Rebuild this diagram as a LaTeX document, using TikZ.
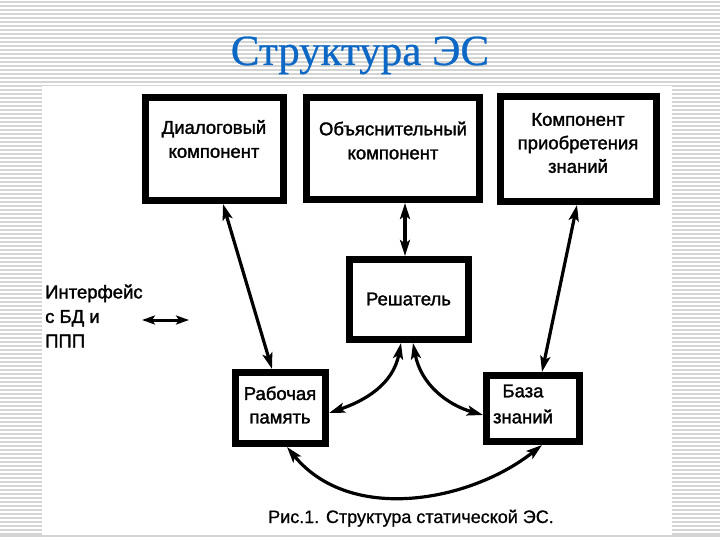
\documentclass[tikz,border=0pt]{standalone}
\usepackage{fontspec}
\setmainfont{Liberation Sans}
\newfontfamily\boxfont{Liberation Sans}[FakeBold=1.6]
\newfontfamily\capfont{Liberation Sans}[FakeBold=0.8]
\newfontfamily\titlefont{Liberation Serif}[FakeBold=0.6]
\usetikzlibrary{arrows.meta}
\definecolor{titleblue}{RGB}{12,104,196}
\definecolor{stripegray}{RGB}{212,212,212}
\begin{document}
\begin{tikzpicture}[x=1pt,y=-1pt,
  box/.style={draw=black, line width=7pt, fill=white, outer sep=3.5pt, inner sep=0pt},
  txt/.style={font=\boxfont\fontsize{18.5}{24}\selectfont, align=center, inner sep=0pt},
  link/.style={line width=3.2pt, {Stealth[length=16pt,width=10pt,inset=3.5pt]}-{Stealth[length=16pt,width=10pt,inset=3.5pt]}},
  smalllink/.style={line width=3pt, {Stealth[length=13pt,width=9pt,inset=3pt]}-{Stealth[length=13pt,width=9pt,inset=3pt]}},
  stripe/.style={stripegray, line width=1.6pt}]
\useasboundingbox (0,0) rectangle (720,540);
\fill[white] (0,0) rectangle (720,540);
\foreach \yy in {2,6,...,534} \draw[stripe] (0,\yy) -- (720,\yy);
\fill[white] (42,86) rectangle (672,536);
\draw[stripe] (0,536) -- (720,536);

\node[font=\titlefont\fontsize{43}{50}\selectfont, text=titleblue, anchor=base, inner sep=0pt] (title) at (360,65) {Структура ЭС};

\node[box, minimum width=138, minimum height=103] (dlg) at (214.5,149) {};
\node[box, minimum width=173, minimum height=102] (obj) at (393,148.5) {};
\node[box, minimum width=156, minimum height=105] (kpz) at (578.5,149) {};
\node[box, minimum width=119, minimum height=80] (res) at (409,299.5) {};
\node[box, minimum width=90, minimum height=71] (rab) at (280.5,408) {};
\node[box, minimum width=93, minimum height=66] (baza) at (533,408.5) {};

\node[txt] (dlgT) at (214,139) {Диалоговый\\компонент};
\node[txt] (objT) at (393,140.5) {Объяснительный\\компонент};
\node[txt, font=\boxfont\fontsize{18.5}{23.5}\selectfont] (kpzT) at (578,143) {Компонент\\приобретения\\знаний};
\node[txt] (resT) at (408.5,299) {Решатель};
\node[txt, font=\boxfont\fontsize{18.5}{23.5}\selectfont] (rabT) at (280,405) {Рабочая\\память};
\node[txt, font=\boxfont\fontsize{18.5}{26}\selectfont] (bazaT) at (523,404) {База\\знаний};

\node[txt, align=left, anchor=west, font=\boxfont\fontsize{18.5}{24.5}\selectfont] (intf) at (45,316) {Интерфейс\\с БД и\\ППП};
\coordinate (ia) at (142,320);
\coordinate (ib) at (189,320);
\draw[smalllink] (ia) -- (ib);

\draw[link] ([xshift=8.5pt]dlg.south) -- ([xshift=-8.5pt]rab.north);
\draw[link] ([xshift=12pt]obj.south) -- ([xshift=-4pt]res.north);
\draw[link] ([xshift=-1.5pt]kpz.south) -- ([xshift=9pt]baza.north);
\draw[link] ([xshift=-8pt]res.south) .. controls +(-8,42) and +(35,-12) .. ([yshift=-5pt]rab.east);
\draw[link] ([xshift=4pt]res.south) .. controls +(8,42) and +(-35,-10) .. ([yshift=-6.5pt]baza.west);
\draw[link] ([xshift=6.5pt]rab.south) .. controls +(63,77) and +(-72,57) .. ([xshift=9pt]baza.south);

\node[font=\capfont\fontsize{18}{22}\selectfont, anchor=base, inner sep=0pt] (cap) at (411,523) {Рис.1. Структура статической ЭС.};
\end{tikzpicture}
\end{document}
